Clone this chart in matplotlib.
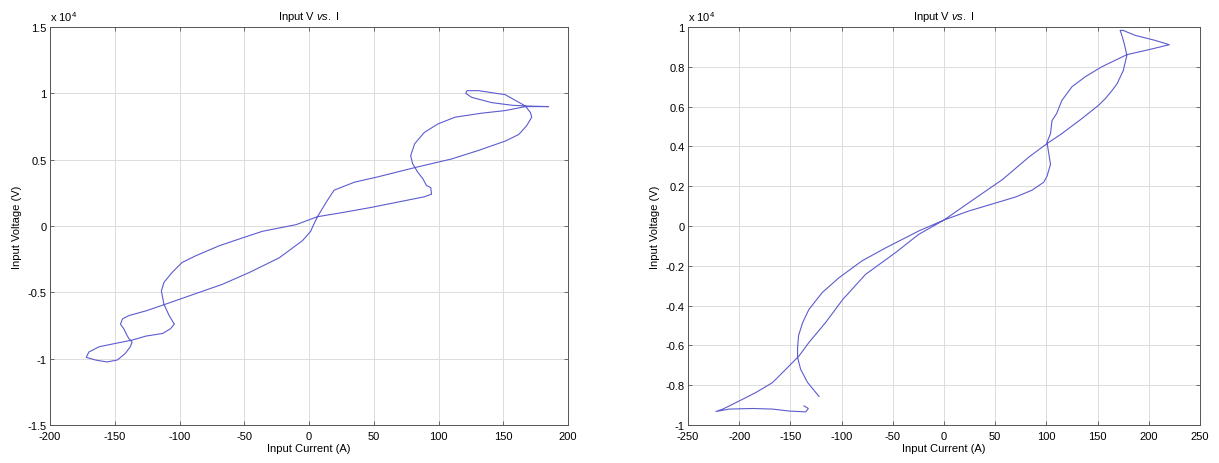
import numpy as np
import matplotlib.pyplot as plt
from matplotlib.ticker import FuncFormatter, MultipleLocator

plt.rcParams['font.family'] = ['Liberation Sans', 'DejaVu Sans']
plt.rcParams['axes.unicode_minus'] = False
plt.rcParams['mathtext.fontset'] = 'custom'
plt.rcParams['mathtext.it'] = 'Liberation Sans:italic'
plt.rcParams['mathtext.rm'] = 'Liberation Sans'

# left trace: current (A), voltage (x 10^4 V)
i_left = [184.7, 167, 151.5, 131, 122, 121, 125.6, 141, 157, 167,
          171, 172, 168, 162, 151.5, 131, 110, 81.6, 53, 35, 19.4, 14, 6.5, 2.6,
          1.3, -5, -23, -46, -67, -87.6, -111, -126, -139, -144, -145.6, -143,
          -140.5, -139, -136.6, -138, -141.8, -148, -156, -165, -172, -170, -162,
          -152, -136.6, -126, -113, -107, -104, -108, -112, -114, -112, -105.7,
          -98, -87.6, -69.6, -51.5, -36, -10, 6.5, 25, 48, 89, 94.6, 94, 90.7,
          88, 84, 80, 78.5, 81.6, 89, 99.7, 112.7, 133, 151.5, 167, 184.7]
v_left = [0.90, 0.905, 0.99, 1.02, 1.02, 1.0, 0.97, 0.93, 0.91, 0.905,
          0.855, 0.82, 0.755, 0.69, 0.64, 0.57, 0.505, 0.44, 0.37, 0.33, 0.27,
          0.19, 0.07, -0.01, -0.04, -0.11, -0.24, -0.35, -0.44, -0.51, -0.59,
          -0.64, -0.675, -0.70, -0.74, -0.775, -0.825, -0.85, -0.875, -0.91,
          -0.96, -1.01, -1.025, -1.01, -0.99, -0.95, -0.91, -0.89, -0.86, -0.83,
          -0.81, -0.775, -0.74, -0.675, -0.59, -0.49, -0.425, -0.35, -0.275,
          -0.225, -0.15, -0.09, -0.04, 0.01, 0.07, 0.10, 0.14, 0.22, 0.24, 0.29,
          0.305, 0.355, 0.405, 0.47, 0.53, 0.62, 0.705, 0.77, 0.82, 0.85, 0.87,
          0.90, 0.90]

# right trace
i_right = [-122, -133.4, -140, -143, -143, -142, -138, -132, -119, -102.6, -80,
           -57, -24.7, 0, 24, 56.5, 70, 86, 97.4, 100.6, 104, 100.6, 104, 105.5,
           110, 115, 125, 138, 154, 178.6, 200, 220, 206, 186.7, 178.6, 175, 172,
           173.7, 176, 178.6, 175, 169, 164, 157.5, 151, 134.7, 115, 100.6, 83,
           57, 29, 0, -24.7, -47.4, -76.6, -99, -115.6, -132, -141.6, -154.5,
           -167.5, -183.8, -203, -216, -222.7, -209.7, -187, -167.5, -151, -135,
           -132.5, -136.7]
v_right = [-0.857, -0.785, -0.72, -0.66, -0.61, -0.55, -0.485, -0.42, -0.335,
           -0.26, -0.175, -0.11, -0.025, 0.03, 0.075, 0.125, 0.146, 0.18, 0.22,
           0.25, 0.31, 0.42, 0.465, 0.53, 0.565, 0.63, 0.70, 0.75, 0.80, 0.861,
           0.886, 0.911, 0.933, 0.958, 0.975, 0.983, 0.983, 0.958, 0.916, 0.858,
           0.78, 0.715, 0.68, 0.64, 0.607, 0.54, 0.464, 0.414, 0.347, 0.233,
           0.134, 0.03, -0.042, -0.134, -0.243, -0.37, -0.485, -0.586, -0.653,
           -0.72, -0.787, -0.837, -0.887, -0.92, -0.932, -0.92, -0.917, -0.92,
           -0.93, -0.934, -0.917, -0.904]

fig = plt.figure(figsize=(12.19, 4.64), dpi=100)
ax1 = fig.add_axes([50 / 1219, 1 - 426 / 464, 518 / 1219, 398 / 464])
ax2 = fig.add_axes([688 / 1219, 1 - 426 / 464, 512 / 1219, 398 / 464])

fmt = FuncFormatter(lambda v, p: '%g' % round(v, 6))

def style(ax, xlim, ylim, xstep, ystep):
    ax.set_xlim(xlim)
    ax.set_ylim(ylim)
    ax.xaxis.set_major_locator(MultipleLocator(xstep))
    ax.yaxis.set_major_locator(MultipleLocator(ystep))
    ax.xaxis.set_major_formatter(fmt)
    ax.yaxis.set_major_formatter(fmt)
    ax.grid(True, color='#dcdcdc', lw=0.7)
    ax.set_axisbelow(True)
    ax.tick_params(direction='in', top=True, right=True, labelsize=8,
                   length=3, width=0.6, color='#555555')
    ax.tick_params(axis='x', pad=4.5)
    ax.tick_params(axis='y', pad=2.5)
    for s in ax.spines.values():
        s.set_color('#555555')
        s.set_linewidth(0.7)
    ax.set_title(r'Input V $\it{vs.}$ I', fontsize=8, pad=6)
    ax.set_xlabel('Input Current (A)', fontsize=8, labelpad=1)
    ax.set_ylabel('Input Voltage (V)', fontsize=8, labelpad=4)
    ax.text(0.0, 1.01, r'x 10$^4$', transform=ax.transAxes, fontsize=8,
            ha='left', va='bottom')

ax1.plot(i_left, v_left, color='#5c5cd0', lw=0.8)
style(ax1, (-200, 200), (-1.5, 1.5), 50, 0.5)

ax2.plot(i_right, v_right, color='#5c5cd0', lw=0.8)
style(ax2, (-250, 250), (-1, 1), 50, 0.2)

fig.savefig('out.png', dpi=100)
